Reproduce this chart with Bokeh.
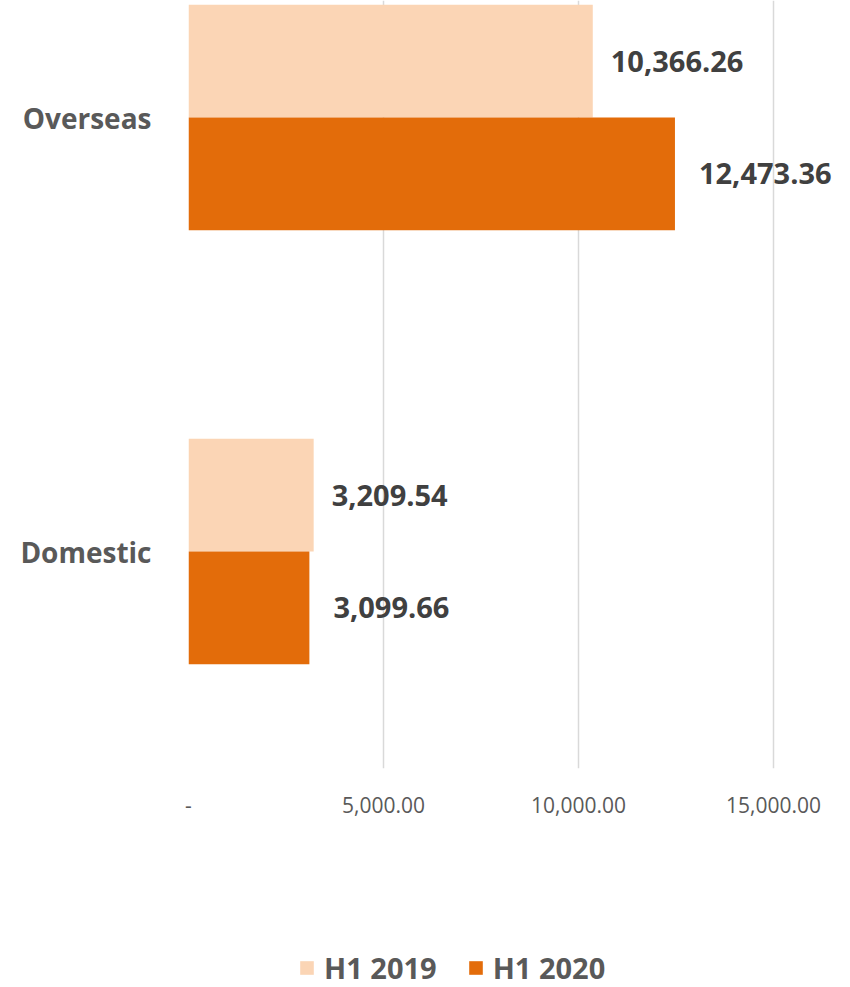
from bokeh.plotting import figure
from bokeh.layouts import column
from bokeh.models import ColumnDataSource, Range1d, FixedTicker, Legend, LegendItem
from bokeh.transform import dodge
from bokeh.core.properties import value
from bokeh.embed import file_html
from bokeh.resources import INLINE

# ---- data ----
categories = ["Domestic", "Overseas"]
h1_2019 = [3209.54, 10366.26]
h1_2020 = [3099.66, 12473.36]
series_names = ["H1 2019", "H1 2020"]
x_ticks = [0, 5000, 10000, 15000]
x_tick_labels = ["-", "5,000.00", "10,000.00", "15,000.00"]

FONT = "Open Sans"
C19 = "#FBD5B5"
C20 = "#E36C0A"

pos = [i + 0.5 for i in range(len(categories))]
src = ColumnDataSource(dict(
    y=pos, cat=categories, v19=h1_2019, v20=h1_2020,
    t19=[f"{v:,.2f}" for v in h1_2019],
    t20=[f"{v:,.2f}" for v in h1_2020],
))

OFF = 0.13
BAR_H = 0.26

# ---- main chart ----
p = figure(width=850, height=837, output_backend="svg", toolbar_location=None,
           x_range=Range1d(0, 16718), y_range=Range1d(0, 1.7696),
           min_border_left=188, min_border_right=10, min_border_top=0,
           min_border_bottom=69)
p.outline_line_color = None

p.hbar(y=dodge("y", OFF), left=0, right="v19", height=BAR_H, source=src,
       fill_color=C19, line_color=None)
p.hbar(y=dodge("y", -OFF), left=0, right="v20", height=BAR_H, source=src,
       fill_color=C20, line_color=None)

common = dict(text_baseline="middle", text_align="left", text_font=value(FONT),
              text_font_style="bold", text_font_size="29px", text_color="#404040",
              source=src)
p.text(x="v19", y=dodge("y", OFF), text="t19", x_offset=18, **common)
p.text(x="v20", y=dodge("y", -OFF), text="t20", x_offset=24, **common)

p.xaxis.ticker = FixedTicker(ticks=x_ticks)
p.xgrid.ticker = p.xaxis.ticker
p.xaxis.major_label_overrides = dict(zip(x_ticks, x_tick_labels))
p.xaxis.axis_line_color = None
p.xaxis.major_tick_line_color = None
p.xaxis.minor_tick_line_color = None
p.xaxis.major_label_standoff = 22
p.xaxis.major_label_text_font = FONT
p.xaxis.major_label_text_font_size = "21px"
p.xaxis.major_label_text_color = "#595959"

p.yaxis.ticker = FixedTicker(ticks=pos)
p.yaxis.major_label_overrides = dict(zip(pos, categories))
p.yaxis.axis_line_color = None
p.yaxis.major_tick_line_color = None
p.yaxis.minor_tick_line_color = None
p.yaxis.major_label_standoff = 31
p.yaxis.major_label_text_font = FONT
p.yaxis.major_label_text_font_style = "bold"
p.yaxis.major_label_text_font_size = "28px"
p.yaxis.major_label_text_color = "#595959"

p.ygrid.visible = False
p.xgrid.grid_line_color = "#D9D9D9"
p.xgrid.grid_line_width = 1.5

# ---- legend strip ----
lg = figure(width=850, height=150, output_backend="svg", toolbar_location=None,
            x_range=Range1d(0, 1), y_range=Range1d(100, 101),
            x_axis_location=None, y_axis_location=None,
            min_border=0)
lg.outline_line_color = None
lg.grid.visible = False
l19 = lg.hbar(y="y", left=0, right="v19", height=BAR_H, source=src,
              fill_color=C19, line_color=None)
l20 = lg.hbar(y="y", left=0, right="v20", height=BAR_H, source=src,
              fill_color=C20, line_color=None)

legend = Legend(items=[LegendItem(label=series_names[0], renderers=[l19]),
                       LegendItem(label=series_names[1], renderers=[l20])],
                orientation="horizontal", location=(110, 0),
                glyph_width=17, glyph_height=17, label_standoff=9, spacing=30,
                padding=0, margin=0, border_line_color=None,
                background_fill_alpha=0,
                label_text_font=FONT, label_text_font_style="bold",
                label_text_font_size="29px", label_text_color="#595959")
lg.add_layout(legend)

open("out.html", "w").write(file_html(column(p, lg, spacing=0), INLINE))
